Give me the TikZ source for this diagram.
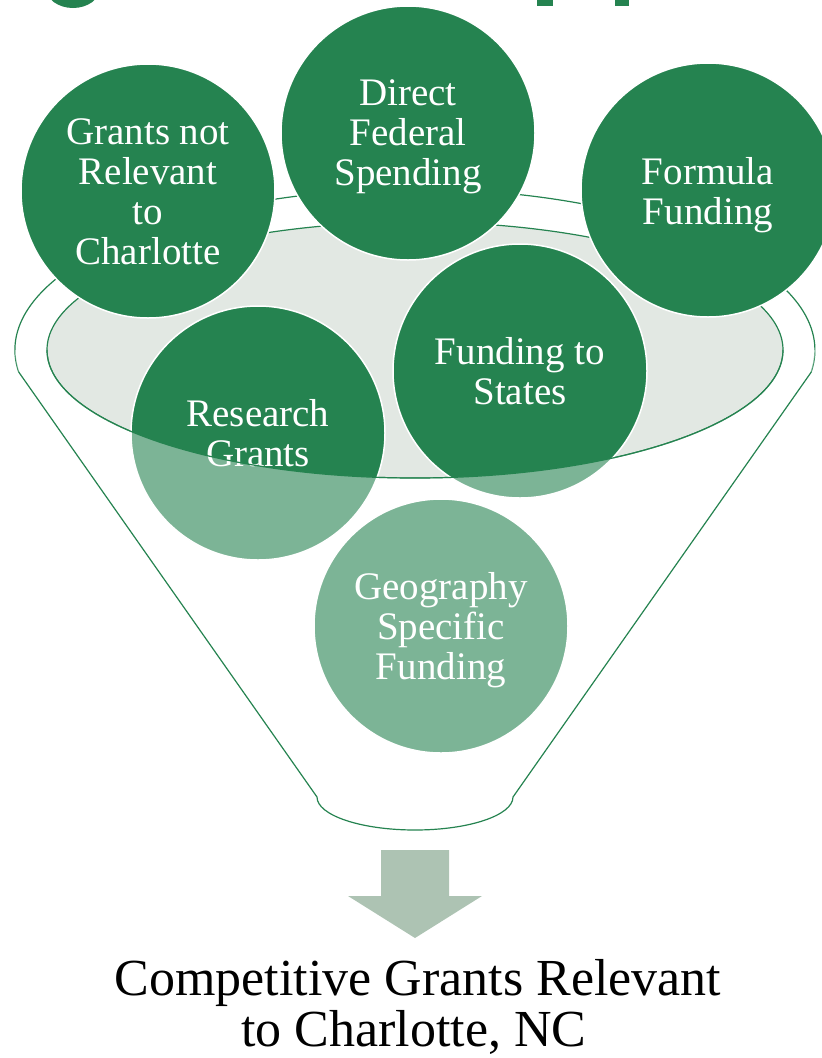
\documentclass[tikz,border=0pt]{standalone}
\usepackage{fontspec}
\setmainfont{Liberation Serif}
\definecolor{fgreen}{RGB}{37,131,80}
\definecolor{rimgray}{RGB}{226,232,227}
\definecolor{arrowgray}{RGB}{173,195,179}
\tikzset{
  bubble/.style={circle, fill=fgreen, draw=white, line width=1.5pt, minimum size=254pt,
    inner sep=0pt},
  btext/.style={align=center, text=white, inner sep=0pt, font=\fontsize{39}{40}\selectfont},
  funnelline/.style={draw=fgreen, line width=1.2pt},
  caption/.style={font=\fontsize{52}{53}\selectfont, anchor=base, text=black}
}
\begin{document}
\begin{tikzpicture}[x=1pt,y=1pt]
\useasboundingbox (0,0) rectangle (822,-1058);
\clip (0,0) rectangle (822,-1058);
% fragments of a cut-off title
\fill[fgreen] (73,12) ellipse [x radius=27, y radius=20];
\fill[fgreen] (537,0) rectangle (553,-6);
\fill[fgreen] (615,0) rectangle (629,-6);
% funnel back
\fill[rimgray] (415,-350) ellipse [x radius=368, y radius=128];
\draw[funnelline] (415,-350) ellipse [x radius=368, y radius=128];
\draw[funnelline] (18.7,-372) arc[start angle=187.85, end angle=-7.85, x radius=400, y radius=161];
% circles
\node[bubble] (notrel) at (148,-191) {};
\node[bubble] (direct) at (408,-133) {};
\node[bubble] (formula) at (708,-190) {};
\node[bubble] (states) at (520,-371) {};
\node[bubble] (research) at (258,-433) {};
\node[bubble] (geo) at (441,-626) {};
\node[btext] (notrel-t) at ([yshift=-1]notrel.center) {Grants not\\Relevant\\to\\Charlotte};
\node[btext] (direct-t) at ([yshift=-4]direct.center) {Direct\\Federal\\Spending};
\node[btext] (formula-t) at ([yshift=-5]formula.center) {Formula\\Funding};
\node[btext] (states-t) at (states.center) {Funding to\\States};
\node[btext] (research-t) at (research.center) {Research\\Grants};
\node[btext] (geo-t) at ([yshift=-4]geo.center) {Geography\\Specific\\Funding};
% funnel front body
\fill[white, fill opacity=0.4] (18.7,-372) -- (317,-797)
  arc[start angle=180, end angle=360, x radius=98, y radius=33] -- (811.3,-372)
  arc[start angle=-7.85, end angle=0, x radius=400, y radius=161] -- (783,-350)
  arc[start angle=0, end angle=-180, x radius=368, y radius=128] -- (15,-350)
  arc[start angle=180, end angle=187.85, x radius=400, y radius=161] -- cycle;
\draw[funnelline] (18.7,-372) -- (317,-797)
  arc[start angle=180, end angle=360, x radius=98, y radius=33] -- (811.3,-372);
\draw[funnelline] (783,-350) arc[start angle=0, end angle=-180, x radius=368, y radius=128];
% arrow
\fill[arrowgray] (381,-850) -- (449,-850) -- (449,-896) -- (482,-896) -- (415,-938)
  -- (348,-896) -- (381,-896) -- cycle;
% caption
\node[caption] (cap1) at (418,-995) {Competitive Grants Relevant};
\node[caption] (cap2) at (414,-1046) {to Charlotte, NC};
\end{tikzpicture}
\end{document}
